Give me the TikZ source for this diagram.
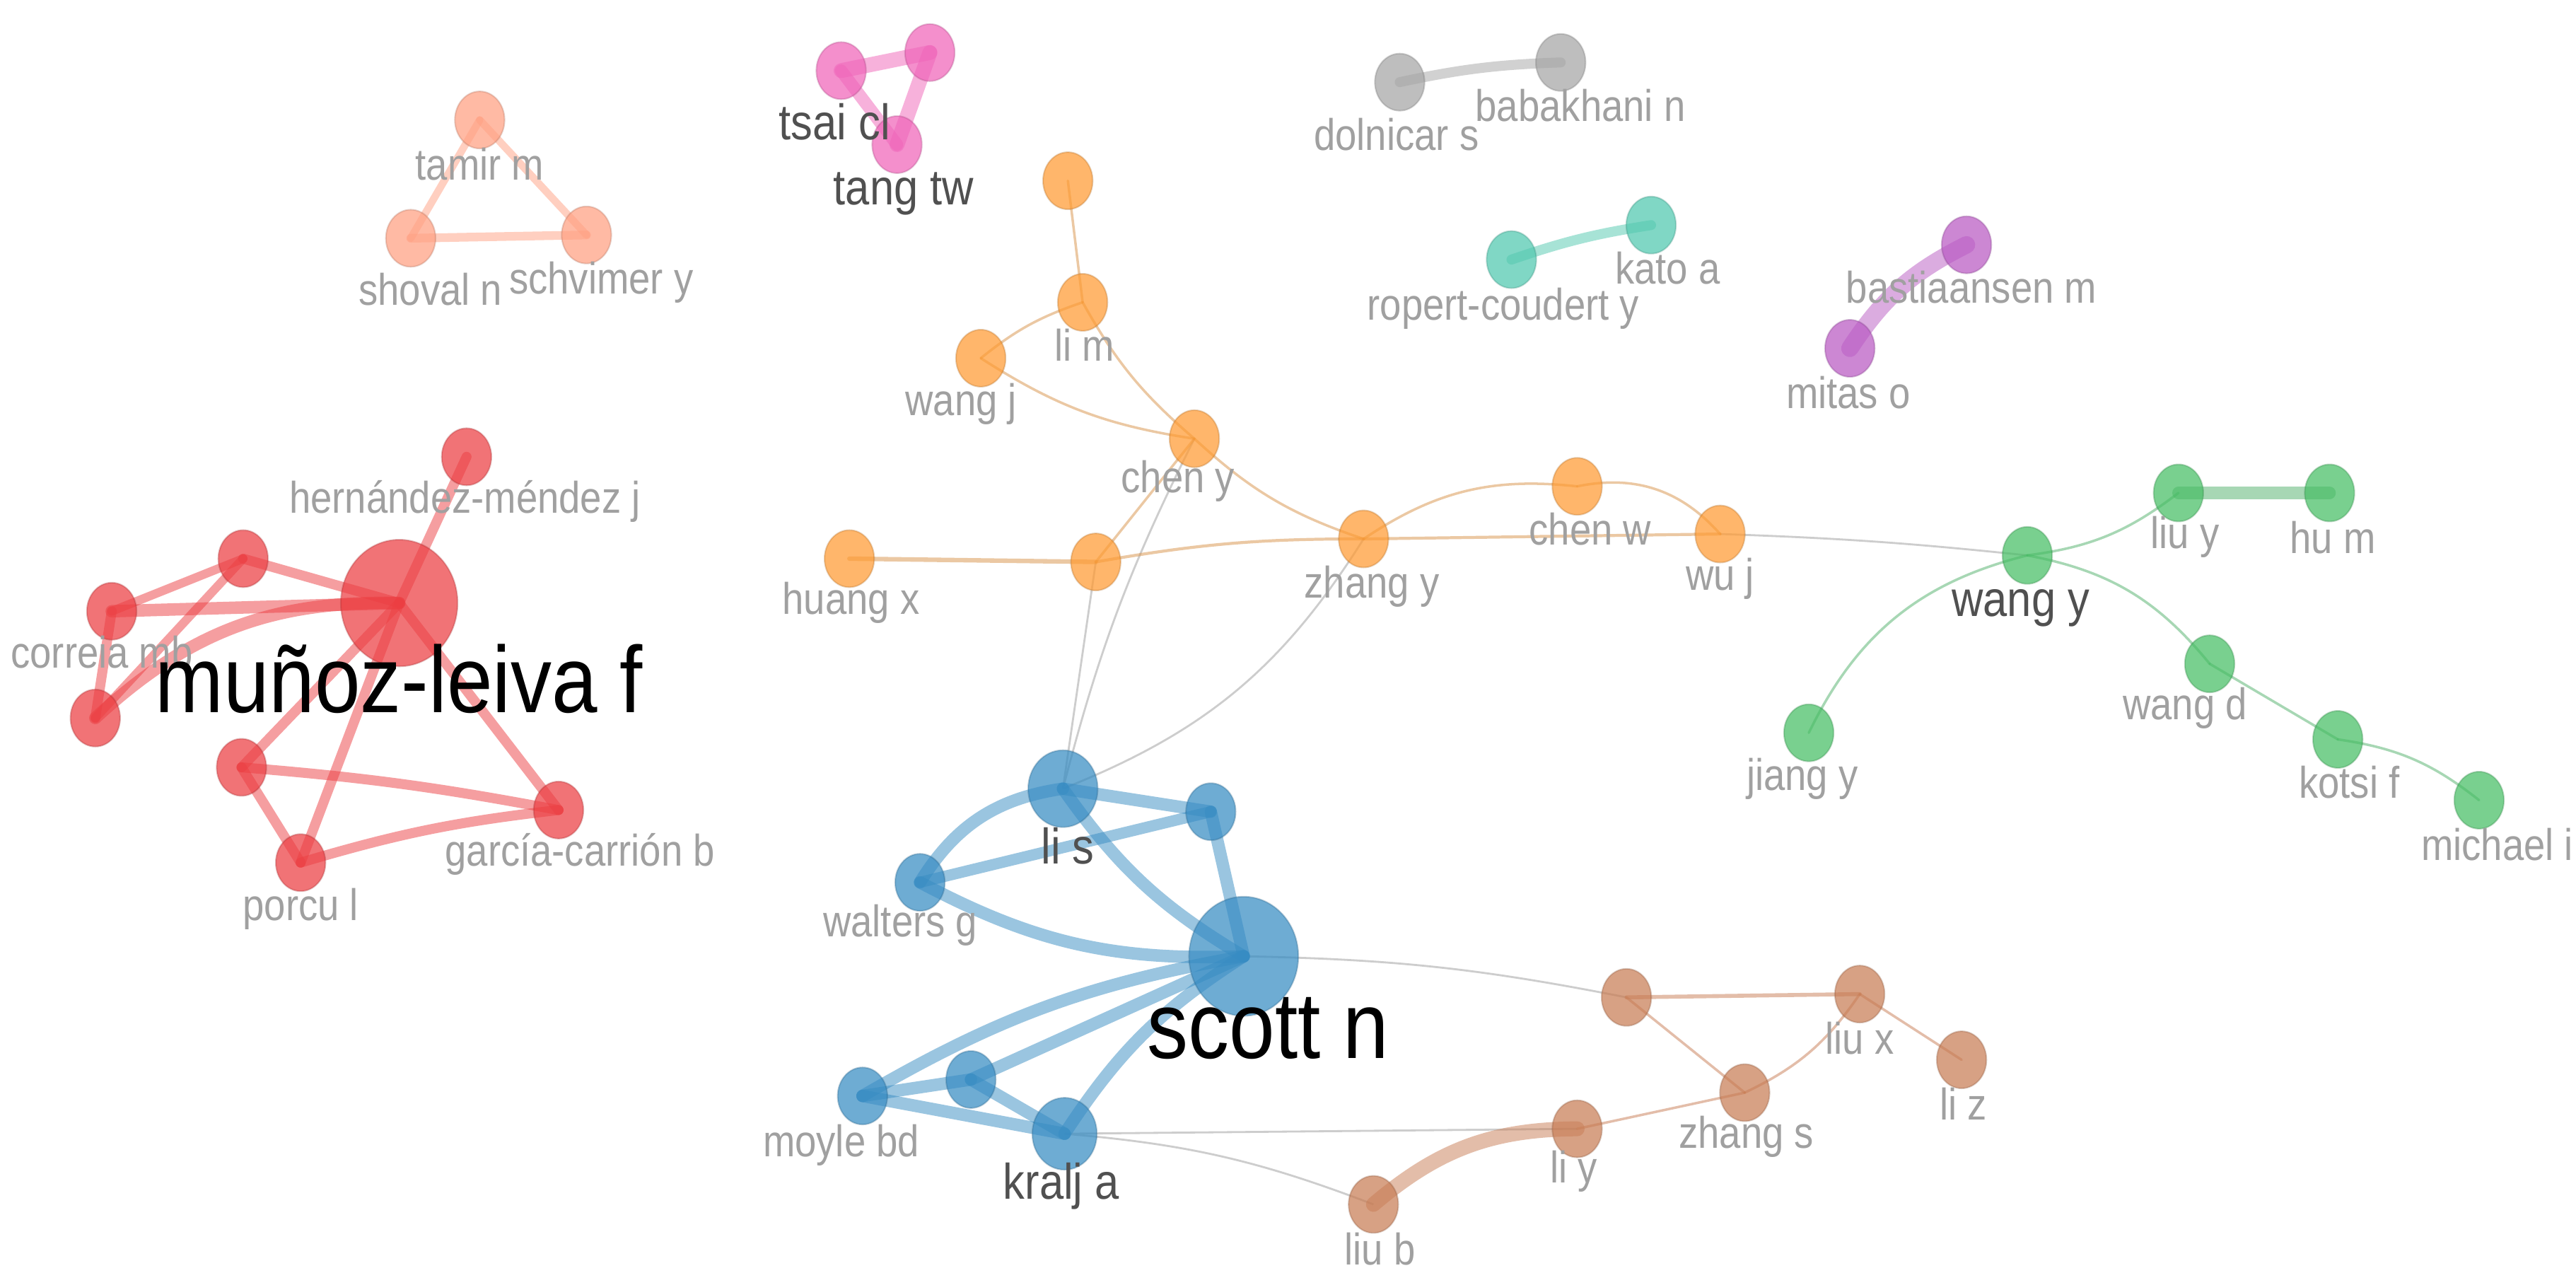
\documentclass[tikz,border=0pt]{standalone}
\usepackage{fontspec}
\usepackage{graphicx}
\setmainfont{Liberation Sans}
\usetikzlibrary{shapes.geometric,backgrounds}
\definecolor{cred}{RGB}{236,62,66}
\definecolor{cblue}{RGB}{55,140,195}
\definecolor{cgreen}{RGB}{70,190,100}
\definecolor{corange}{RGB}{255,155,50}
\definecolor{cbrown}{RGB}{200,125,85}
\definecolor{csalmon}{RGB}{255,160,130}
\definecolor{cpink}{RGB}{240,100,185}
\definecolor{cgrayn}{RGB}{165,165,165}
\definecolor{cteal}{RGB}{80,200,175}
\definecolor{cpurple}{RGB}{185,90,195}
\definecolor{lblgray}{RGB}{160,160,160}
\definecolor{lbldark}{RGB}{80,80,80}
\definecolor{edgegray}{RGB}{205,205,205}
\newcommand{\tl}[1]{\scalebox{1}[1.15]{#1}}
\tikzset{
  nd/.style={ellipse, inner sep=0pt, minimum width=20pt, minimum height=23pt, fill opacity=0.72, draw opacity=0.3, line width=0.6pt},
  mdn/.style={minimum width=28pt, minimum height=31pt},
  bgn/.style={minimum width=47pt, minimum height=51pt},
  rn/.style={nd, fill=cred, draw=cred!70!black},
  bn/.style={nd, fill=cblue, draw=cblue!70!black},
  gn/.style={nd, fill=cgreen, draw=cgreen!70!black},
  on/.style={nd, fill=corange, draw=corange!70!black},
  brn/.style={nd, fill=cbrown, draw=cbrown!70!black},
  sn/.style={nd, fill=csalmon, draw=csalmon!70!black},
  pn/.style={nd, fill=cpink, draw=cpink!70!black},
  yn/.style={nd, fill=cgrayn, draw=cgrayn!70!black},
  tn/.style={nd, fill=cteal, draw=cteal!70!black},
  un/.style={nd, fill=cpurple, draw=cpurple!70!black},
  ed/.style={line cap=round, opacity=0.5},
  thinedge/.style={draw=edgegray, line width=0.8pt},
  lbl/.style={text=lblgray, font=\fontsize{15.5}{18}\selectfont, inner sep=0pt},
  lbd/.style={text=lbldark, font=\fontsize{17.5}{20}\selectfont, inner sep=0pt},
  lbb/.style={text=black, font=\fontsize{33}{38}\selectfont, inner sep=0pt},
}
\begin{document}
\begin{tikzpicture}[x=0.023234cm, y=-0.023234cm]
\useasboundingbox (0,0) rectangle (1568,782);

% ---------- red cluster
\node[rn,bgn] (rbig) at (243,367) {};
\node[rn] (rhm) at (284,278) {};
\node[rn] (ra) at (148,340) {};
\node[rn] (rb) at (68,372) {};
\node[rn] (rc) at (58,437) {};
\node[rn] (rd) at (147,467) {};
\node[rn] (rp) at (183,525) {};
\node[rn] (rg) at (340,493) {};
% ---------- blue cluster
\node[bn,bgn,minimum width=44pt,minimum height=48pt] (scott) at (757,582) {};
\node[bn,mdn] (lis) at (647,480) {};
\node[bn] (bne) at (737,494) {};
\node[bn] (walters) at (560,537) {};
\node[bn] (moyle) at (525,667) {};
\node[bn] (bmid) at (591,657) {};
\node[bn,mdn,minimum width=26pt,minimum height=29pt] (kralj) at (648,690) {};
% ---------- orange cluster
\node[on] (otop) at (650,110) {};
\node[on] (lim) at (659,184) {};
\node[on] (wangj) at (597,218) {};
\node[on] (cheny) at (727,267) {};
\node[on] (huangx) at (517,340) {};
\node[on] (omid) at (667,342) {};
\node[on] (zhangy) at (830,328) {};
\node[on] (chenw) at (960,296) {};
\node[on] (wuj) at (1047,325) {};
% ---------- green cluster
\node[gn] (wangy) at (1234,338) {};
\node[gn] (liuy) at (1326,300) {};
\node[gn] (hum) at (1418,300) {};
\node[gn] (jiangy) at (1101,446) {};
\node[gn] (wangd) at (1345,404) {};
\node[gn] (kotsif) at (1423,450) {};
\node[gn] (michael) at (1509,487) {};
% ---------- brown cluster
\node[brn] (br1) at (990,607) {};
\node[brn] (liux) at (1132,605) {};
\node[brn] (liz) at (1194,645) {};
\node[brn] (zhangs) at (1062,665) {};
\node[brn] (liy) at (960,687) {};
\node[brn] (liub) at (836,733) {};
% ---------- small clusters
\node[sn] (tamir) at (292,73) {};
\node[sn] (shoval) at (250,145) {};
\node[sn] (schvimer) at (357,143) {};
\node[pn] (pk1) at (512,43) {};
\node[pn] (pk2) at (566,32) {};
\node[pn] (pk3) at (546,88) {};
\node[yn] (dol) at (852,50) {};
\node[yn] (bab) at (950,38) {};
\node[tn] (rop) at (920,158) {};
\node[tn] (kato) at (1005,137) {};
\node[un] (mitas) at (1126,212) {};
\node[un] (bast) at (1197,149) {};

\begin{pgfonlayer}{background}
\fill[white] (0,0) rectangle (1568,782);
% thin inter-cluster links
\draw[thinedge] (lis.center) -- (omid.center);
\draw[thinedge] (lis.center) to[bend left=6] (cheny.center);
\draw[thinedge] (lis.center) to[bend right=18] (zhangy.center);
\draw[thinedge] (scott.center) to[bend left=5] (br1.center);
\draw[thinedge] (kralj.center) -- (liy.center);
\draw[thinedge] (kralj.center) to[bend left=8] (liub.center);
\draw[thinedge] (wuj.center) to[bend left=2] (wangy.center);
% red
\begin{scope}[draw=cred, ed]
\draw[line width=4pt] (rbig.center) -- (rhm.center);
\draw[line width=4pt] (rbig.center) -- (ra.center);
\draw[line width=5pt] (rbig.center) -- (rb.center);
\draw[line width=5pt] (rc.center) to[bend left=22] (rbig.center);
\draw[line width=3.5pt] (ra.center) -- (rb.center);
\draw[line width=3.5pt] (ra.center) -- (rc.center);
\draw[line width=4pt] (rb.center) -- (rc.center);
\draw[line width=4pt] (rbig.center) -- (rd.center);
\draw[line width=4pt] (rbig.center) -- (rp.center);
\draw[line width=4pt] (rbig.center) -- (rg.center);
\draw[line width=4pt] (rd.center) to[bend left=3] (rg.center);
\draw[line width=4pt] (rd.center) -- (rp.center);
\draw[line width=4pt] (rp.center) to[bend left=5] (rg.center);
\end{scope}
% blue
\begin{scope}[draw=cblue, ed]
\draw[line width=5pt] (walters.center) to[bend left=25] (lis.center);
\draw[line width=4.5pt] (walters.center) -- (bne.center);
\draw[line width=5pt] (lis.center) -- (bne.center);
\draw[line width=5pt] (lis.center) to[bend right=12] (scott.center);
\draw[line width=5pt] (bne.center) -- (scott.center);
\draw[line width=5pt] (walters.center) to[bend right=15] (scott.center);
\draw[line width=5pt] (moyle.center) to[bend left=10] (scott.center);
\draw[line width=5pt] (bmid.center) -- (scott.center);
\draw[line width=5pt] (kralj.center) to[bend left=12] (scott.center);
\draw[line width=5pt] (moyle.center) -- (bmid.center);
\draw[line width=5pt] (moyle.center) -- (kralj.center);
\draw[line width=5pt] (bmid.center) -- (kralj.center);
\end{scope}
% orange
\begin{scope}[draw=corange!70!gray, ed]
\draw[line width=1pt] (otop.center) -- (lim.center);
\draw[line width=1pt] (lim.center) to[bend right=10] (wangj.center);
\draw[line width=1pt] (lim.center) to[bend right=10] (cheny.center);
\draw[line width=1pt] (wangj.center) to[bend right=12] (cheny.center);
\draw[line width=1pt] (cheny.center) -- (omid.center);
\draw[line width=1pt] (cheny.center) to[bend right=12] (zhangy.center);
\draw[line width=1.8pt] (huangx.center) -- (omid.center);
\draw[line width=1.2pt] (omid.center) to[bend left=5] (zhangy.center);
\draw[line width=1pt] (zhangy.center) to[bend left=20] (chenw.center);
\draw[line width=1pt] (chenw.center) to[bend left=30] (wuj.center);
\draw[line width=1.2pt] (zhangy.center) -- (wuj.center);
\end{scope}
% green
\begin{scope}[draw=cgreen!80!gray, ed]
\draw[line width=1pt] (wangy.center) to[bend right=15] (liuy.center);
\draw[line width=5pt] (liuy.center) -- (hum.center);
\draw[line width=1pt] (wangy.center) to[bend right=25] (jiangy.center);
\draw[line width=1pt] (wangy.center) to[bend left=20] (wangd.center);
\draw[line width=1pt] (wangd.center) -- (kotsif.center);
\draw[line width=1pt] (kotsif.center) to[bend left=15] (michael.center);
\end{scope}
% brown
\begin{scope}[draw=cbrown, ed]
\draw[line width=1.6pt] (br1.center) -- (liux.center);
\draw[line width=1pt] (br1.center) -- (zhangs.center);
\draw[line width=1pt] (zhangs.center) to[bend right=15] (liux.center);
\draw[line width=1pt] (liux.center) -- (liz.center);
\draw[line width=1pt] (zhangs.center) -- (liy.center);
\draw[line width=6pt] (liub.center) to[bend left=20] (liy.center);
\end{scope}
% small clusters
\begin{scope}[ed]
\draw[draw=csalmon, line width=3pt] (tamir.center) -- (shoval.center);
\draw[draw=csalmon, line width=3pt] (tamir.center) -- (schvimer.center);
\draw[draw=csalmon, line width=3.5pt] (shoval.center) -- (schvimer.center);
\draw[draw=cpink, line width=6pt] (pk1.center) -- (pk2.center);
\draw[draw=cpink, line width=6pt] (pk2.center) -- (pk3.center);
\draw[draw=cpink, line width=5pt] (pk1.center) -- (pk3.center);
\draw[draw=cgrayn, line width=4pt] (dol.center) to[bend left=5] (bab.center);
\draw[draw=cteal, line width=4pt] (rop.center) to[bend left=5] (kato.center);
\draw[draw=cpurple, line width=7pt] (mitas.center) to[bend left=15] (bast.center);
\end{scope}
\end{pgfonlayer}

% ---------- labels
\node[lbl] (l-rhm) at (283,305) {\tl{hernández-méndez j}};
\node[lbl] (l-rb) at (62,397) {\tl{correia mb}};
\node[lbb] (l-rbig) at (243,413) {\tl{muñoz-leiva f}};
\node[lbl] (l-rg) at (353,520) {\tl{garcía-carrión b}};
\node[lbl] (l-rp) at (183,553) {\tl{porcu l}};
\node[lbd] (l-lis) at (650,515) {\tl{li s}};
\node[lbl] (l-walters) at (548,563) {\tl{walters g}};
\node[lbb] (l-scott) at (772,626) {\tl{scott n}};
\node[lbl] (l-moyle) at (512,697) {\tl{moyle bd}};
\node[lbd] (l-kralj) at (646,722) {\tl{kralj a}};
\node[lbl] (l-lim) at (660,210) {\tl{li m}};
\node[lbl] (l-wangj) at (585,246) {\tl{wang j}};
\node[lbl] (l-cheny) at (717,293) {\tl{chen y}};
\node[lbl] (l-huangx) at (518,367) {\tl{huang x}};
\node[lbl] (l-zhangy) at (835,357) {\tl{zhang y}};
\node[lbl] (l-chenw) at (968,322) {\tl{chen w}};
\node[lbl] (l-wuj) at (1047,352) {\tl{wu j}};
\node[lbd] (l-wangy) at (1230,370) {\tl{wang y}};
\node[lbl] (l-liuy) at (1330,327) {\tl{liu y}};
\node[lbl] (l-hum) at (1420,327) {\tl{hu m}};
\node[lbl] (l-jiangy) at (1097,474) {\tl{jiang y}};
\node[lbl] (l-wangd) at (1330,431) {\tl{wang d}};
\node[lbl] (l-kotsif) at (1430,476) {\tl{kotsi f}};
\node[lbl] (l-michael) at (1520,514) {\tl{michael i}};
\node[lbl] (l-liux) at (1132,632) {\tl{liu x}};
\node[lbl] (l-liz) at (1195,672) {\tl{li z}};
\node[lbl] (l-zhangs) at (1063,692) {\tl{zhang s}};
\node[lbl] (l-liy) at (958,713) {\tl{li y}};
\node[lbl] (l-liub) at (840,760) {\tl{liu b}};
\node[lbl] (l-tamir) at (292,100) {\tl{tamir m}};
\node[lbl] (l-shoval) at (262,176) {\tl{shoval n}};
\node[lbl] (l-schvimer) at (366,172) {\tl{schvimer y}};
\node[lbd] (l-tsai) at (508,74) {\tl{tsai cl}};
\node[lbd] (l-tang) at (550,118) {\tl{tang tw}};
\node[lbl] (l-dol) at (850,82) {\tl{dolnicar s}};
\node[lbl] (l-bab) at (962,64) {\tl{babakhani n}};
\node[lbl] (l-rop) at (915,188) {\tl{ropert-coudert y}};
\node[lbl] (l-kato) at (1015,163) {\tl{kato a}};
\node[lbl] (l-bast) at (1200,175) {\tl{bastiaansen m}};
\node[lbl] (l-mitas) at (1125,239) {\tl{mitas o}};
\end{tikzpicture}
\end{document}
